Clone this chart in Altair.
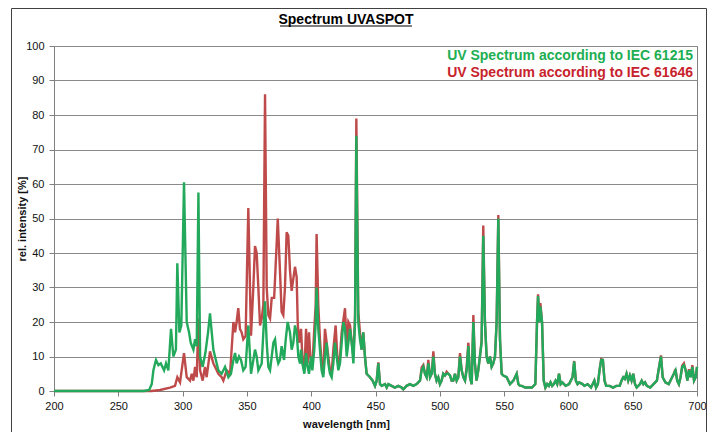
import altair as alt
import pandas as pd

TITLE = "Spectrum UVASPOT"
X_TITLE = "wavelength [nm]"
Y_TITLE = "rel. intensity  [%]"
LEGEND_LABELS = ["UV Spectrum according to IEC 61215", "UV Spectrum according to IEC 61646"]
X_TICKS = [200, 250, 300, 350, 400, 450, 500, 550, 600, 650, 700]
Y_TICKS = [0, 10, 20, 30, 40, 50, 60, 70, 80, 90, 100]

# ---- IEC 61215 (green), 200-443 nm
g_nm = [200, 270, 274, 276, 277.3, 279.3, 281.2, 283, 285.6, 287.1, 288.9, 291, 292.8, 294.8,
        295.9, 297.5, 299, 301.1, 303.2, 305, 306.3, 308.4, 309.7, 311, 312.3, 313.6, 315.6,
        317.7, 319.8, 321.3, 323.9, 325.2, 327.8, 330.4, 333, 335.6, 337.6, 339.5, 340.8, 342,
        343.9, 345.4, 347.2, 349, 351.1, 353.2, 355, 356.3, 357.6, 358.9, 361.5, 364.1, 365.4,
        366.7, 368, 369.3, 370.6, 371.9, 373.2, 374.4, 375.7, 377, 378.9, 380.2, 381.7, 383.5,
        384.8, 386.1, 387.4, 388.7, 390, 391.3, 392.1, 393.1, 394.7, 396, 397.2, 398.3, 399.8,
        400.9, 402.4, 403.5, 404.2, 405.5, 406.8, 408.1, 409.4, 410.7, 412, 413.3, 414.6, 415.9,
        417.2, 418.5, 419.8, 421.1, 422.4, 423.7, 425, 426.3, 427.6, 428.9, 430.2, 431.5, 432.8,
        434.1, 435.1, 436.6, 437.9, 439.2, 440.5, 441.8, 443.1]
g_val = [0, 0, 0.3, 2, 6, 9, 7.5, 8, 6, 8, 6, 18, 10, 12,
         37, 17, 19, 60.5, 20, 17, 14, 12, 15, 13, 57.5, 10, 7,
         11, 17, 22.5, 12, 10, 6, 5, 7, 4, 5, 9, 11, 8,
         10, 9, 6, 7, 19, 5, 9, 12, 10, 6, 8, 26, 14,
         7, 6, 10, 14, 15, 10, 8, 9, 13, 9, 15, 20, 17,
         12, 14, 19, 17, 10, 8, 12, 8, 5, 11, 7, 5, 10,
         6, 12, 20, 30, 18, 12, 6, 4, 10, 14, 8, 5, 4,
         8, 14, 10, 6, 8, 14, 20, 18, 10, 14, 18, 14, 8,
         20, 74, 20, 15, 12, 17, 10, 5]

# ---- IEC 61646 (red), 200-443 nm
r_nm = [200, 276, 282.5, 290.2, 294.1, 295.9, 298, 301.1, 303.2, 305.8, 307.1, 308.4, 309.7,
        311, 312.3, 313.6, 315.6, 317.4, 318.7, 321.3, 323.9, 325.2, 327.8, 330.4, 331.7, 334.3,
        336.9, 339.5, 340.8, 342, 343.3, 344.6, 345.9, 347.2, 349, 351.1, 352.4, 353.2, 355,
        356.3, 357.6, 358.9, 360.2, 361.5, 362.8, 364.1, 365.4, 366.7, 368, 369.3, 371.2, 372.8,
        374, 375.8, 377, 378.3, 379.6, 380.9, 382.2, 383.5, 384.8, 385.5, 387.4, 388.7, 389.5,
        390.5, 392.1, 393.1, 394.7, 396, 397.2, 398.3, 399.3, 400.9, 402.4, 403.5, 404.2, 405.5,
        406.8, 408.1, 409.4, 410.7, 412, 413.3, 414.6, 415.9, 417.2, 419, 420.3, 421.1, 422.4,
        423.7, 426.3, 427.6, 428.9, 430.2, 431.5, 432.8, 434.1, 435.1, 436.6, 437.9, 439.2,
        440.5, 441.8, 443.1]
r_val = [0, 0, 0.3, 1, 1.5, 4, 2.5, 11, 4, 3, 5, 3, 7,
         4, 21, 6, 3, 7, 4, 11.5, 8, 7, 5, 4, 3, 6,
         5, 20, 17, 20, 24, 18, 17, 15, 16, 53, 30, 16, 30,
         42, 40, 30, 19, 21, 25, 86, 30, 22, 21, 27, 27, 40,
         50, 34, 23, 22, 30, 46, 45, 35, 29, 31, 36, 33, 20,
         14, 18, 10, 6, 18, 8, 17, 10, 7, 18, 25, 45.5, 25,
         15, 8, 5, 18, 14, 10, 6, 5, 12, 19, 10, 8, 10,
         17, 24, 12, 20, 19, 14, 10, 22, 79, 23, 17, 12,
         17, 10, 5]

# ---- 445-700 nm (both series nearly identical)
tail_nm = [445.7, 447.8, 449.6, 450.9, 452.2, 453.5, 454.8, 457.4, 458.7, 460, 462.5, 465.1,
           467.7, 470.3, 471.6, 474.2, 476.8, 479.4, 482, 484.6, 485.9, 487.2, 488.5, 489.8,
           491.1, 492.4, 493.7, 495, 496.2, 497.5, 498.8, 500.1, 501.4, 502.7, 504, 505.3,
           506.6, 507.9, 509.2, 510.5, 511.8, 513.1, 514.4, 515.7, 517, 518.3, 519.6, 520.9,
           522.2, 523.5, 524.8, 526.1, 527.3, 528.6, 529.9, 531.2, 532.5, 533.8, 535.1, 536.4,
           537.7, 539, 540.3, 541.6, 542.9, 544.2, 545.5, 546.8, 548.1, 549.4, 552, 554.6,
           557.2, 559.8, 561.1, 562.4, 563.8, 566.4, 569, 571.6, 574.3, 575.6, 576.4, 577.4,
           578.2, 579.5, 580.8, 582.1, 583.5, 584.8, 586.1, 587.4, 588.7, 590, 591.3, 592.7,
           594, 595.3, 596.6, 597.9, 600.5, 603.2, 604.5, 605.8, 607.1, 608.4, 611, 612.4,
           615, 617.6, 618.9, 620.2, 621.5, 622.9, 624.2, 625.5, 626.8, 628.1, 629.4, 632.1,
           634.7, 637.3, 639.9, 641.3, 642.6, 643.9, 645.2, 646.5, 647.8, 649.1, 650.4, 651.8,
           653.1, 655.7, 657, 658.3, 659.6, 661, 663.6, 666.2, 668.8, 670.1, 672, 673.3,
           675.4, 678, 679.3, 682, 683.3, 684.6, 685.9, 687.2, 688.5, 689.8, 691.2, 692.5,
           693.8, 695.1, 696.4, 697.7, 699, 700]
tail_green = [4, 3, 1.5, 3, 8, 2, 1.5, 2, 1, 2, 1.5, 1,
              1.5, 1, 0.5, 1.5, 2, 1.5, 2, 3, 6, 7, 5, 4,
              8, 4, 5, 10, 5, 3, 4, 2, 3, 5, 4.5, 5,
              5, 4.5, 3, 3, 5, 3, 4, 10, 6, 4, 3, 6,
              13, 4, 2, 20, 8, 3, 6, 10, 14, 45, 20, 10,
              8, 10, 7, 8, 10, 20, 50, 15, 5, 4.5, 4, 2,
              3, 5, 2, 1.5, 1.5, 1, 1, 1, 2, 20, 27.5, 20,
              24.5, 20, 3, 1, 2, 1.5, 2.5, 1.5, 2, 3, 2, 5,
              2, 2.5, 2, 1.5, 2, 4, 8.5, 3, 2, 2.5, 2, 1.5,
              2, 1, 2, 3, 1, 2, 6, 9, 9, 3, 1.5, 1.5,
              1, 1.5, 1.5, 3, 4, 3.5, 5, 3, 4.5, 3, 5, 2,
              1, 2, 3, 2, 2.5, 1.5, 1, 2, 3, 6, 10, 4,
              2.5, 2, 3, 5, 6, 3, 2, 4, 7, 7.5, 6, 3,
              6, 4, 7, 3, 4, 7]
tail_red = [4, 3, 1.5, 3, 8.3, 2, 1.5, 2, 1, 2, 1.5, 1,
            1.5, 1, 0.5, 1.5, 2, 1.5, 2, 3, 6.8, 7.5, 5, 4,
            9, 4, 5, 11.5, 5, 3, 4, 2, 3, 5, 4.5, 5.6,
            5, 4.5, 3, 3, 5, 3, 4, 11, 6, 4, 3, 7,
            14, 4, 2, 22, 8, 3, 6, 10, 14.5, 48, 20, 10,
            8, 10, 7, 8, 10, 20, 51, 15, 5, 4.5, 4, 2,
            3, 5, 2, 1.5, 1.5, 1, 1, 1, 2, 20, 28, 20,
            25.5, 20, 3, 1, 2, 1.5, 2.5, 1.5, 2, 3, 2, 5,
            2, 2.5, 2, 1.5, 2, 4, 8.7, 3, 2, 2.5, 2, 1.5,
            2, 1, 2, 3, 1, 2, 6, 9.2, 9, 3, 1.5, 1.5,
            1, 1.5, 1.5, 3, 4, 3.5, 5, 3, 4.5, 3, 5, 2,
            1, 2, 3, 2, 2.5, 1.5, 1, 2, 3, 6, 10.3, 4,
            2.5, 2, 3, 5, 6.3, 3, 2, 4, 7.3, 8, 6, 3,
            6.3, 4, 7.5, 3, 4, 7]

GREEN = "#22A95B"
RED = "#BF4A4A"
GREEN_TXT = "#20AE52"
RED_TXT = "#C8232C"
FONT = "Liberation Sans"

green_df = pd.DataFrame({"nm": g_nm + tail_nm, "val": g_val + tail_green})
red_df = pd.DataFrame({"nm": r_nm + tail_nm, "val": r_val + tail_red})

W, H = 643, 345

x_enc = alt.X(
    "nm:Q",
    scale=alt.Scale(domain=[200, 700], nice=False, zero=False),
    axis=alt.Axis(
        values=X_TICKS, title=X_TITLE, grid=False, format="d", labelFlush=False,
        titleX=292, titleY=36, titleAlign="center", titleBaseline="alphabetic",
    ),
)
y_enc = alt.Y(
    "val:Q",
    scale=alt.Scale(domain=[0, 100], nice=False),
    axis=alt.Axis(
        values=Y_TICKS, title=Y_TITLE, grid=True, format="d", labelFlush=False,
        titleX=-32, titleY=H / 2, titleAngle=270, titleAlign="center", titleBaseline="middle",
    ),
)

red_line = alt.Chart(red_df).mark_line(color=RED, strokeWidth=2.4).encode(x=x_enc, y=y_enc)
green_line = alt.Chart(green_df).mark_line(color=GREEN, strokeWidth=2.4).encode(x=x_enc, y=y_enc)

leg_green = alt.Chart(pd.DataFrame({"t": [LEGEND_LABELS[0]]})).mark_text(
    align="right", baseline="alphabetic", font=FONT, fontSize=14, fontWeight="bold", color=GREEN_TXT
).encode(x=alt.value(639), y=alt.value(14), text="t:N")
leg_red = alt.Chart(pd.DataFrame({"t": [LEGEND_LABELS[1]]})).mark_text(
    align="right", baseline="alphabetic", font=FONT, fontSize=14, fontWeight="bold", color=RED_TXT
).encode(x=alt.value(639), y=alt.value(31), text="t:N")

title_txt = alt.Chart(pd.DataFrame({"t": [TITLE]})).mark_text(
    align="center", baseline="alphabetic", font=FONT, fontSize=14, fontWeight="bold", color="#000000"
).encode(x=alt.value(292), y=alt.value(-22), text="t:N")
underline = alt.Chart(pd.DataFrame({"t": [TITLE]})).mark_rule(color="#000000", strokeWidth=1).encode(
    x=alt.value(226), x2=alt.value(358), y=alt.value(-20)
)
frame = alt.Chart(pd.DataFrame({"t": [TITLE]})).mark_rect(
    fillOpacity=0, stroke="#404040", strokeWidth=1
).encode(x=alt.value(-42.5), x2=alt.value(652.5), y=alt.value(-37.5), y2=alt.value(420))

chart = alt.layer(
    frame, red_line, green_line, leg_green, leg_red, title_txt, underline
).properties(
    width=W, height=H,
    padding={"left": 46, "top": 38, "right": 13, "bottom": 41},
    autosize=alt.AutoSizeParams(type="none"),
).configure_view(
    stroke="#808080", strokeWidth=1
).configure_axis(
    domainColor="#808080", tickColor="#808080", tickSize=5, gridColor="#8a8a8a", gridWidth=1,
    labelFont=FONT, labelFontSize=11, labelColor="#111111", labelPadding=4,
    titleFont=FONT, titleFontSize=11, titleFontWeight="bold", titleColor="#111111",
).configure_axisY(labelPadding=5)

chart.save("out.html", embed_options={"renderer": "svg", "actions": False})
